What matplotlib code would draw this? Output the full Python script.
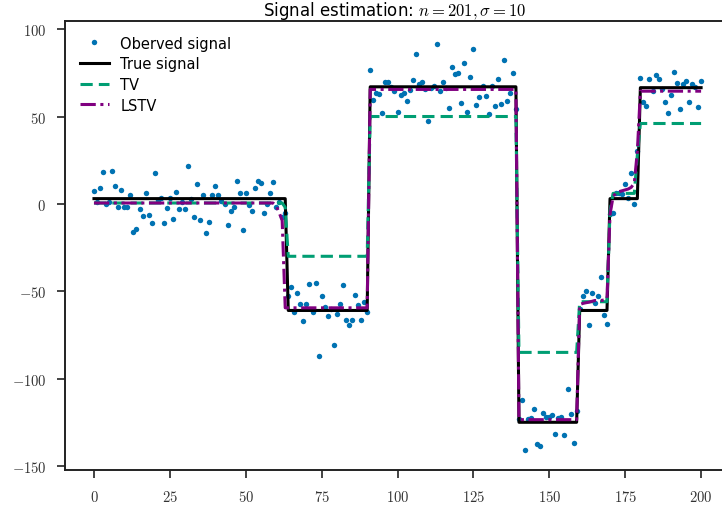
import matplotlib
matplotlib.use("Agg")
import matplotlib.pyplot as plt
import numpy as np
from matplotlib.ticker import FuncFormatter

plt.rcParams["mathtext.fontset"] = "cm"
plt.rcParams["font.family"] = "DejaVu Sans"

n = 201
x = np.arange(n)

observed = [
    7.6, 1, 9.1, 18.1, 0, 1, 18.7, 10.5, -1.9, 8.2,
    -1.9, -1.9, 5.3, -16.2, -14.3, -2.9, -7.2, 6.1, -6.3, -11.2,
    17.5, 2, 3.6, -11.2, -2.5, 3.6, -8.6, 6.7, -3.2, 1,
    -3.0, 21.4, 2.7, -7.6, 11.1, -9.2, 5, -16.8, -10.3, 4.8,
    10.3, 4.8, 1.9, -0.2, -12, -4.2, -1.7, 13.3, 6.3, -14.7,
    6.3, -0.9, -3.8, 9, 13.3, 12.2, -5.5, 0, 6.3, 12.6,
    -1.9, 1.3, -7.6, -5, -52.8, -47.3, -62, -50.9, -57.4, -67.3,
    -57.4, -45.8, -61.6, -45.4, -87.1, -52.8, -59.3, -63.9, -60, -80.9,
    -63.1, -57.4, -46.3, -66.2, -69.2, -66.2, -51.9, -57.8, -66.2, -55.9,
    -62, 76.5, 59.7, 63.5, 62.7, 52.2, 70, 69.5, 67, 64.5,
    52.8, 62.5, 63.5, 58.9, 65, 70.8, 85.6, 68.6, 69.5, 65.8,
    47.7, 66.6, 67.5, 91.4, 64.6, 69.5, 66.2, 55.1, 78.2, 74.4,
    74.7, 57.8, 80.8, 52.8, 72.7, 88.7, 56.8, 61, 67.7, 61.6,
    51.3, 67.5, 56.1, 71.3, 57.4, 82.2, 58.9, 63.5, 74.9, 54.3,
    -123, -112, -140.7, -123, -122.4, -117.3, -137.3, -138.3, -119.6, -122,
    -122.2, -121, -131.8, -122.5, -122, -132.2, -106.2, -120.1, -136.9, -118.6,
    -60, -53, -49.6, -69.2, -51.1, -56.8, -52.8, -41.9, -63.5, -68.5,
    -5.7, -5.1, 6, 6.1, 5.7, 11.1, 3.2, 17.4, 0.2, 30.1,
    72.2, 58.5, 56.2, 71.5, 64.5, 74, 71.5, 66, 58.5, 51.9,
    62.4, 75.3, 69, 54.3, 68.5, 70.6, 58.2, 68.5, 67, 55.3,
    70.4,
]

# piecewise constant pieces: (length, value)
true_pieces = [(64, 3), (27, -61), (49, 67), (20, -125), (10, -61), (10, 3), (21, 66.5)]
tv_pieces = [(63, 0.5), (1, -2), (27, -30), (49, 50), (20, -85), (10, -56), (1, -4),
             (8, 6), (1, 28), (21, 46)]
lstv_seg1 = [0.5] * 60 + [-1, -5, -9.5]
lstv_seg2 = [-59.5] * 28
lstv_seg3 = [65.5] * 49
lstv_seg4 = [-123.5] * 20
lstv_seg5 = [-57.6, -57, -56.6, -56.3, -55.8, -55.3, -55.3, -55.3, -55, -54.5]
lstv_seg6 = [-6, 4, 6.5, 7, 7.5, 8, 8.5, 9.5, 12, 30]
lstv_seg7 = [64.5] * 21


def expand(pieces):
    return np.concatenate([np.full(k, v, dtype=float) for k, v in pieces])


true_signal = expand(true_pieces)
tv = expand(tv_pieces)
lstv = np.array(lstv_seg1 + lstv_seg2 + lstv_seg3 + lstv_seg4
                + lstv_seg5 + lstv_seg6 + lstv_seg7, dtype=float)

fig = plt.figure(figsize=(7.22, 5.10), dpi=100)
ax = fig.add_axes([0.090, 0.0765, 0.913, 0.8805])

ax.plot(x, observed, "o", color="#0072B2", markersize=3.9, markeredgewidth=0,
        label="Oberved signal", zorder=2)
ax.plot(x, true_signal, "-", color="black", lw=2.2, label="True signal", zorder=3)
ax.plot(x, tv, "--", color="#009E73", lw=2.2, dashes=(4, 2), label="TV", zorder=4)
ax.plot(x, lstv, "-.", color="#800080", lw=2.2, dashes=(5, 1.5, 1, 1.5),
        label="LSTV", zorder=5)

ax.set_xlim(-9.55, 207.6)
ax.set_ylim(-152.3, 104.7)
ax.set_xticks(np.arange(0, 201, 25))
ax.set_yticks([-150, -100, -50, 0, 50, 100])
fmt = FuncFormatter(lambda v, pos: r"$%d$" % v)
ax.xaxis.set_major_formatter(fmt)
ax.yaxis.set_major_formatter(fmt)
ax.tick_params(axis="both", direction="out", length=6, width=1.2, labelsize=10.5,
               pad=7.5, color="#222222", labelcolor="#333333")
for s in ax.spines.values():
    s.set_linewidth(1.4)
    s.set_color("#222222")

ax.set_title(r"Signal estimation: $n=201, \sigma=10$", fontsize=12, pad=4)
ax.legend(loc="upper left", frameon=False, fontsize=10.5, borderaxespad=0.6,
          handlelength=2.0, labelspacing=0.39)

fig.savefig("out.png", dpi=100)
